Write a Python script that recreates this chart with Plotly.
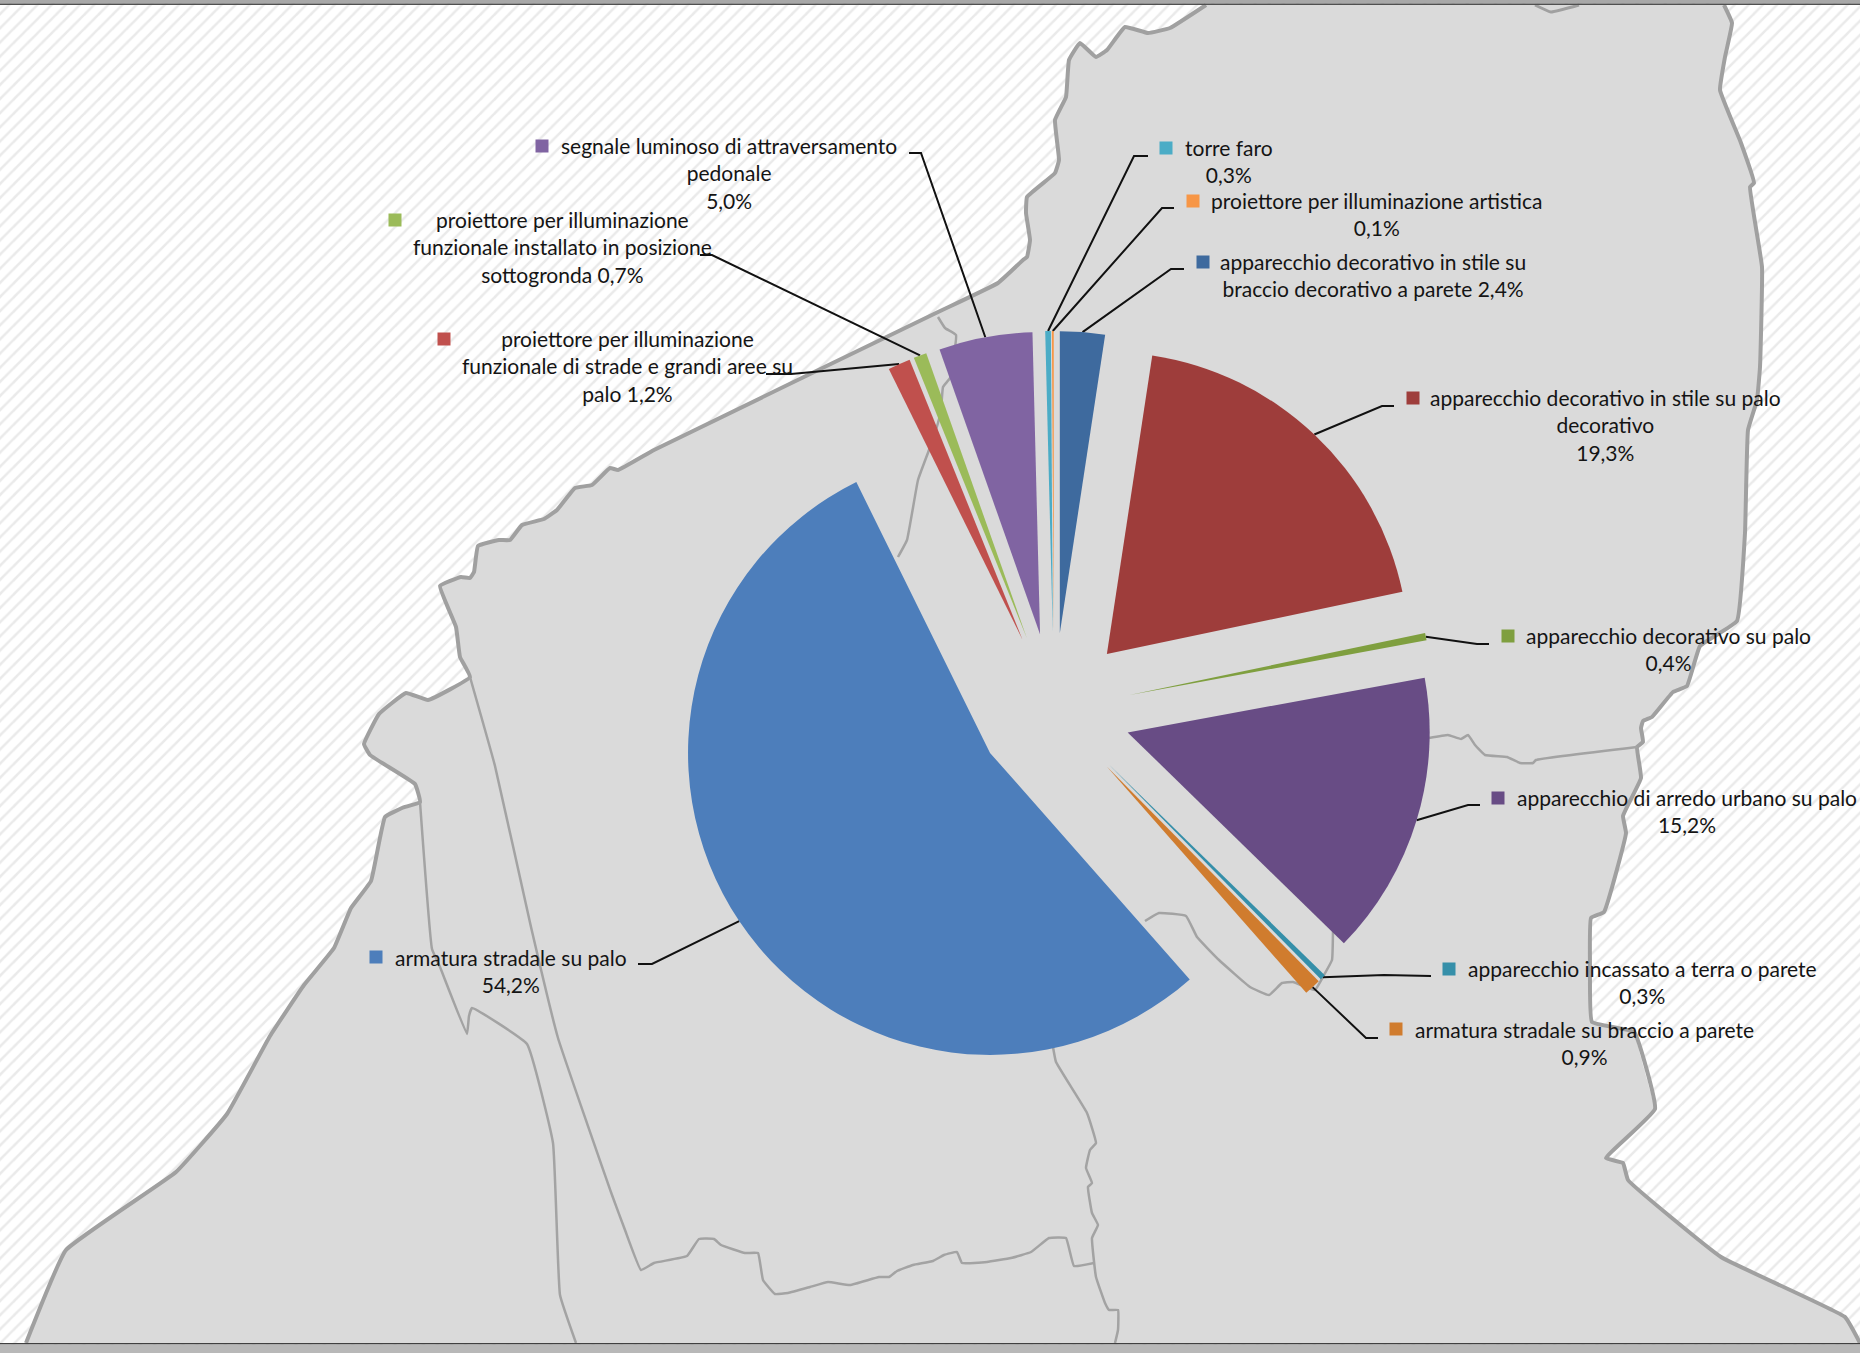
import plotly.graph_objects as go
import math

W, H = 1860, 1353

# ---- data -------------------------------------------------------------
categories = [
    "apparecchio decorativo in stile su<br>braccio decorativo a parete",
    "apparecchio decorativo in stile su palo<br>decorativo",
    "apparecchio decorativo su palo",
    "apparecchio di arredo urbano su palo",
    "apparecchio incassato a terra o parete",
    "armatura stradale su braccio a parete",
    "armatura stradale su palo",
    "proiettore per illuminazione<br>funzionale di strade e grandi aree su<br>palo",
    "proiettore per illuminazione<br>funzionale installato in posizione<br>sottogronda",
    "segnale luminoso di attraversamento<br>pedonale",
    "torre faro",
    "proiettore per illuminazione artistica",
]
values = [2.4, 19.3, 0.4, 15.2, 0.3, 0.9, 54.2, 1.2, 0.7, 5.0, 0.3, 0.1]
value_on_same_line = [True, False, False, False, False, False, False, True, True, False, False, False]
colors = ["#3e6a9e", "#9e3d3b", "#7f9f3f", "#684c85", "#358fa9", "#d07c2e",
          "#4d7ebb", "#c0504d", "#9bbb59", "#8064a2", "#4bacc6", "#f79646"]

# label block centres, legend keys and leader elbows (page pixels)
label_x = [1373, 1605, 1668, 1687, 1642, 1584, 511, 627, 562, 729, 1229, 1377]
label_y = [275, 425, 649, 811, 982, 1043, 971, 366, 247, 173, 161, 214]
key_x = [1203, 1413, 1508, 1498, 1449, 1396, 376, 444, 395, 542, 1166, 1193]
key_y = [262, 398, 636, 798, 969, 1029, 957, 339, 220, 146, 148, 201]
elbow_x = [1171, 1382, 1477, 1468, 1384, 1366, 652, 791, 712, 921, 1134, 1162]
elbow_y = [269, 406, 644, 805, 975, 1038, 964, 374, 255, 153, 156, 208]
end_x = [1184, 1394, 1489, 1480, 1431, 1378, 638, 766, 700, 909, 1148, 1174]
end_y = [269, 406, 644, 805, 976, 1038, 964, 374, 255, 153, 156, 208]

# pie geometry
cx, cy, radius, pull = 1054, 710, 302, 0.255

# ---- background map (page pixels) ---------------------------------------
coast_x = [26, 66, 176, 227, 270, 304, 334, 351, 371, 385, 402, 420, 415, 370, 364, 379, 406, 428, 470,
           460, 456, 440, 461, 470, 474, 478, 499, 510, 522, 544, 557, 575, 592, 610, 618,
           654, 936, 998, 1023, 1027, 1030, 1026, 1027, 1055, 1059, 1055, 1066, 1069, 1080, 1096, 1107,
           1125, 1148, 1170, 1206]
coast_y = [1343, 1250, 1172, 1114, 1036, 985, 948, 908, 881, 817, 808, 802, 784, 755, 744, 714, 693, 700, 677,
           657, 627, 586, 577, 578, 572, 546, 540, 540, 525, 519, 510, 488, 485, 468, 470,
           450, 313, 283, 260, 257, 240, 213, 197, 173, 160, 120, 97, 60, 43, 57, 50,
           27, 33, 28, 5]
east_x = [1724, 1732, 1725, 1720, 1741, 1754, 1750, 1762, 1760, 1757, 1748, 1745, 1737, 1700, 1687, 1673,
          1652, 1643, 1641, 1643, 1637, 1641, 1623, 1626, 1604, 1591, 1590, 1592, 1634, 1655, 1606, 1623,
          1628, 1721, 1845, 1860]
east_y = [5, 23, 57, 90, 143, 183, 187, 267, 367, 400, 430, 533, 621, 646, 686, 692,
          717, 721, 728, 742, 747, 778, 816, 833, 912, 918, 967, 1022, 1032, 1109, 1158, 1163,
          1180, 1257, 1317, 1343]
notch_x = [1535, 1551, 1579]
notch_y = [5, 12, 5]

inner_lines = [
    ([470, 495, 531, 558, 612, 625, 641, 654, 687, 699, 714, 721, 745, 758, 763, 775, 788, 810, 828, 850,
      879, 889, 897, 913, 933, 944, 957, 962, 987, 1011, 1031, 1049, 1066, 1074, 1094],
     [677, 766, 927, 1038, 1195, 1230, 1270, 1263, 1256, 1239, 1239, 1245, 1253, 1253, 1280, 1294, 1293, 1287, 1282, 1285,
      1277, 1277, 1271, 1265, 1261, 1255, 1252, 1263, 1262, 1258, 1252, 1238, 1238, 1266, 1263]),
    ([1053, 1056, 1087, 1096, 1090, 1086, 1092, 1088, 1092, 1098, 1092, 1096, 1105, 1109, 1118, 1118, 1115],
     [1047, 1062, 1113, 1143, 1150, 1168, 1183, 1187, 1213, 1225, 1238, 1277, 1303, 1310, 1310, 1330, 1343]),
    ([420, 432, 440, 467, 469, 472, 527, 553, 560, 576],
     [802, 949, 967, 1034, 1016, 1008, 1044, 1143, 1295, 1343]),
    ([1429, 1448, 1461, 1468, 1475, 1485, 1507, 1520, 1533, 1536, 1637],
     [738, 735, 739, 735, 745, 755, 757, 763, 763, 760, 747]),
    ([1333, 1332, 1324, 1315, 1293, 1282, 1269, 1250, 1219, 1197, 1186, 1159, 1145],
     [930, 960, 975, 990, 982, 983, 995, 987, 960, 937, 916, 913, 921]),
    ([938, 945, 956, 950, 943, 941, 938, 929, 918, 907, 898],
     [317, 328, 335, 378, 387, 410, 423, 450, 480, 540, 557]),
]

fig = go.Figure()

# hatched page background
fig.add_trace(go.Bar(x=[W / 2], y=[H], base=[0], width=[W], hoverinfo="skip", showlegend=False,
                     marker=dict(color="white", line_width=0,
                                 pattern=dict(shape="/", size=10, solidity=0.25,
                                              fgcolor="#d6d6d6", bgcolor="white"))))

# map land
fig.add_trace(go.Scatter(x=coast_x + [1724] + east_x, y=coast_y + [5] + east_y,
                         mode="none", fill="toself", fillcolor="#dadada",
                         hoverinfo="skip", showlegend=False))
for xs, ys, w in [(coast_x, coast_y, 4), (east_x, east_y, 4), (notch_x, notch_y, 3)]:
    fig.add_trace(go.Scatter(x=xs, y=ys, mode="lines",
                             line=dict(color="#a0a0a0", width=w, shape="spline", smoothing=0.3),
                             hoverinfo="skip", showlegend=False))
for xs, ys in inner_lines:
    fig.add_trace(go.Scatter(x=xs, y=ys, mode="lines",
                             line=dict(color="#a3a3a3", width=2.5, shape="spline", smoothing=0.3),
                             hoverinfo="skip", showlegend=False))

# leader lines, anchored on the mid angle of each slice
cum = 0
total = sum(values)
for i, v in enumerate(values):
    a = 2 * math.pi * (cum + v / 2) / total
    cum += v
    d = radius * (1 + pull)
    ax, ay = cx + d * math.sin(a), cy - d * math.cos(a)
    fig.add_trace(go.Scatter(x=[ax, elbow_x[i], end_x[i]], y=[ay, elbow_y[i], end_y[i]], mode="lines",
                             line=dict(color="#111111", width=2), hoverinfo="skip", showlegend=False))

# legend keys
fig.add_trace(go.Scatter(x=key_x, y=key_y, mode="markers", hoverinfo="skip", showlegend=False,
                         marker=dict(symbol="square", size=13, color=colors, line_width=0)))

half = radius * (1 + pull)
fig.add_trace(go.Pie(
    labels=[c.replace("<br>", " ") for c in categories], values=values, sort=False,
    direction="clockwise", rotation=0, pull=pull, textinfo="none", showlegend=False,
    marker=dict(colors=colors, line=dict(width=0)),
    domain=dict(x=[(cx - half) / W, (cx + half) / W], y=[(H - cy - half) / H, (H - cy + half) / H]),
))

annotations = []
for i, c in enumerate(categories):
    pct = f"{values[i]:.1f}".replace(".", ",") + "%"
    txt = c + (" " if value_on_same_line[i] else "<br>") + pct
    annotations.append(dict(x=label_x[i], y=label_y[i], xref="x", yref="y", text=txt, showarrow=False,
                            xanchor="center", yanchor="middle", align="center",
                            font=dict(family="Lato", size=21, color="#141414")))

shapes = [
    dict(type="rect", xref="x", yref="y", x0=0, x1=W, y0=0, y1=3.5, fillcolor="#a8a8a8", line_width=0, layer="above"),
    dict(type="rect", xref="x", yref="y", x0=0, x1=W, y0=3.5, y1=5, fillcolor="#505050", line_width=0, layer="above"),
    dict(type="rect", xref="x", yref="y", x0=0, x1=W, y0=1343, y1=1344.5, fillcolor="#404040", line_width=0, layer="above"),
    dict(type="rect", xref="x", yref="y", x0=0, x1=W, y0=1344.5, y1=H, fillcolor="#b8b8b8", line_width=0, layer="above"),
]

fig.update_layout(
    width=W, height=H, margin=dict(l=0, r=0, t=0, b=0), autosize=False,
    paper_bgcolor="white", plot_bgcolor="white", showlegend=False,
    xaxis=dict(range=[0, W], visible=False, fixedrange=True),
    yaxis=dict(range=[H, 0], visible=False, fixedrange=True),
    annotations=annotations, shapes=shapes, bargap=0,
)

fig.write_html("out.html", config={"displayModeBar": False},
               post_script="document.body.style.margin='0';document.body.style.overflow='hidden';")
